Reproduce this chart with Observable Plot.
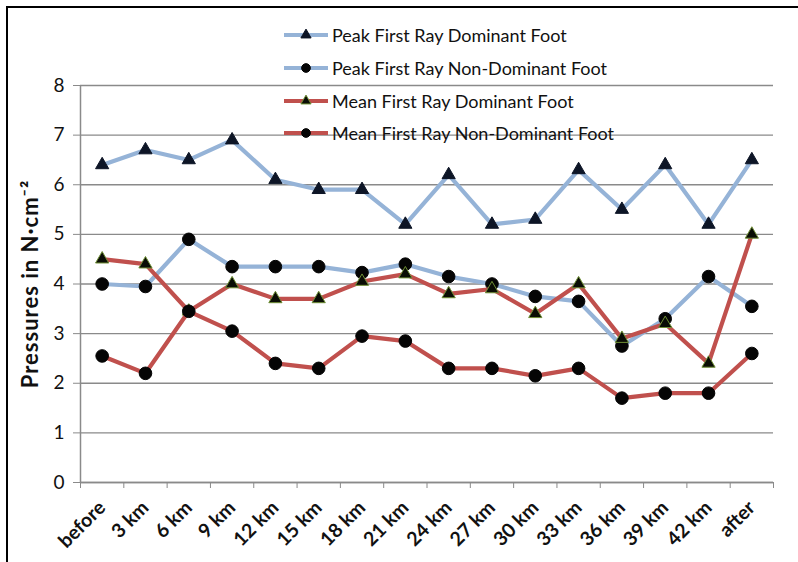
<!DOCTYPE html>
<html><head><meta charset="utf-8">
<script src="https://cdn.jsdelivr.net/npm/d3@7"></script>
<script src="https://cdn.jsdelivr.net/npm/@observablehq/plot@0.6"></script>
<style>
html,body{margin:0;padding:0;background:#fff;}
#wrap{position:relative;width:798px;height:562px;overflow:hidden;font-family:Lato,"Open Sans",sans-serif;color:#111;}
#frame{position:absolute;left:6px;top:6px;width:820px;height:600px;border-left:2px solid #000;border-top:2px solid #000;pointer-events:none;}
#chart{position:absolute;left:0;top:0;}
#legend{position:absolute;left:283px;top:19px;}
.row{display:flex;align-items:center;height:32.7px;font-size:18px;white-space:nowrap;}
.row svg{margin-right:3px;}
</style>
</head><body>
<div id="wrap"><div id="chart"></div><div id="legend"></div><div id="frame"></div></div>
<script>
const categories = ["before","3 km","6 km","9 km","12 km","15 km","18 km","21 km","24 km","27 km","30 km","33 km","36 km","39 km","42 km","after"];
const peakDominant    = [6.4, 6.7, 6.5, 6.9, 6.1, 5.9, 5.9, 5.2, 6.2, 5.2, 5.3, 6.3, 5.5, 6.4, 5.2, 6.5];
const peakNonDominant = [4.0, 3.95, 4.9, 4.35, 4.35, 4.35, 4.23, 4.4, 4.15, 4.0, 3.75, 3.65, 2.75, 3.3, 4.15, 3.55];
const meanDominant    = [4.5, 4.4, 3.45, 4.0, 3.7, 3.7, 4.05, 4.2, 3.8, 3.9, 3.4, 4.0, 2.9, 3.2, 2.4, 5.0];
const meanNonDominant = [2.55, 2.2, 3.45, 3.05, 2.4, 2.3, 2.95, 2.85, 2.3, 2.3, 2.15, 2.3, 1.7, 1.8, 1.8, 2.6];
const seriesNames = ["Peak First Ray Dominant Foot","Peak First Ray Non-Dominant Foot","Mean First Ray Dominant Foot","Mean First Ray Non-Dominant Foot"];
const yTicks = [0,1,2,3,4,5,6,7,8];
const yLabel = "Pressures in N·cm⁻²";

const BLUE = "#95b3d7", RED = "#c0504d";
const styles = [
  {stroke: BLUE, symbol: "triangle", fill: "#0d1526", mstroke: "#0d1526"},
  {stroke: BLUE, symbol: "circle", fill: "#050505", mstroke: "#050505"},
  {stroke: RED, symbol: "triangle", fill: "#0a0d05", mstroke: "#6f8f35"},
  {stroke: RED, symbol: "circle", fill: "#050505", mstroke: "#050505"}
];
const allValues = [peakDominant, peakNonDominant, meanDominant, meanNonDominant];
const idx = categories.map((_, i) => i);
const bounds = d3.range(categories.length + 1).map(i => i - 0.5);

const marks = [
  Plot.gridY(yTicks, {stroke: "#8a8a8a", strokeOpacity: 1, strokeWidth: 1.3}),
  Plot.axisY(yTicks, {tickSize: 7, tickPadding: 9, stroke: "#8a8a8a", fontSize: 19, tickFormat: d3.format("d"), label: yLabel, labelAnchor: "center", labelOffset: 58, labelArrow: "none"}),
  Plot.ruleX([-0.5], {stroke: "#8a8a8a", strokeWidth: 1.5}),
  Plot.ruleY([0], {stroke: "#8a8a8a", strokeWidth: 1.5}),
  Plot.axisX(bounds, {tickSize: 6, tickFormat: () => "", stroke: "#8a8a8a", label: null}),
  Plot.axisX(idx, {tickSize: 0, tickPadding: 22, tickRotate: -45, tickFormat: i => categories[i], fontSize: 19.5, fontWeight: "bold", dx: 0, label: null})
];
allValues.forEach((vals, s) => {
  const st = styles[s];
  const data = vals.map((v, i) => ({i, v}));
  marks.push(Plot.lineY(data, {x: "i", y: "v", stroke: st.stroke, strokeWidth: 4.2}));
  marks.push(Plot.dot(data, {x: "i", y: "v", symbol: st.symbol, r: st.symbol === "triangle" ? 4.9 : 6.3, fill: st.fill, stroke: st.mstroke, strokeWidth: 1}));
});

const plot = Plot.plot({
  width: 798, height: 562,
  marginLeft: 80, marginRight: 25, marginTop: 85, marginBottom: 80,
  x: {type: "linear", domain: [-0.5, categories.length - 0.5], axis: null},
  y: {domain: [0, 8], axis: null},
  style: {fontFamily: "Lato, sans-serif", color: "#111", background: "transparent", overflow: "visible"},
  marks
});
document.getElementById("chart").appendChild(plot);
d3.select(plot).selectAll('g[aria-label="y-axis label"] text')
  .attr("font-weight", "bold").attr("font-size", 22).attr("letter-spacing", "1px");

// legend
const leg = d3.select("#legend");
seriesNames.forEach((name, s) => {
  const st = styles[s];
  const row = leg.append("div").attr("class", "row");
  const sv = row.append("svg").attr("width", 46).attr("height", 20);
  sv.append("line").attr("x1", 1).attr("x2", 45).attr("y1", 10).attr("y2", 10).attr("stroke", st.stroke).attr("stroke-width", 4.2);
  sv.append("path").attr("transform", "translate(23,10)")
    .attr("d", d3.symbol(st.symbol === "triangle" ? d3.symbolTriangle : d3.symbolCircle, st.symbol === "triangle" ? 45 : 60)())
    .attr("fill", st.fill).attr("stroke", st.mstroke);
  row.append("span").text(name);
});
</script>
</body></html>
